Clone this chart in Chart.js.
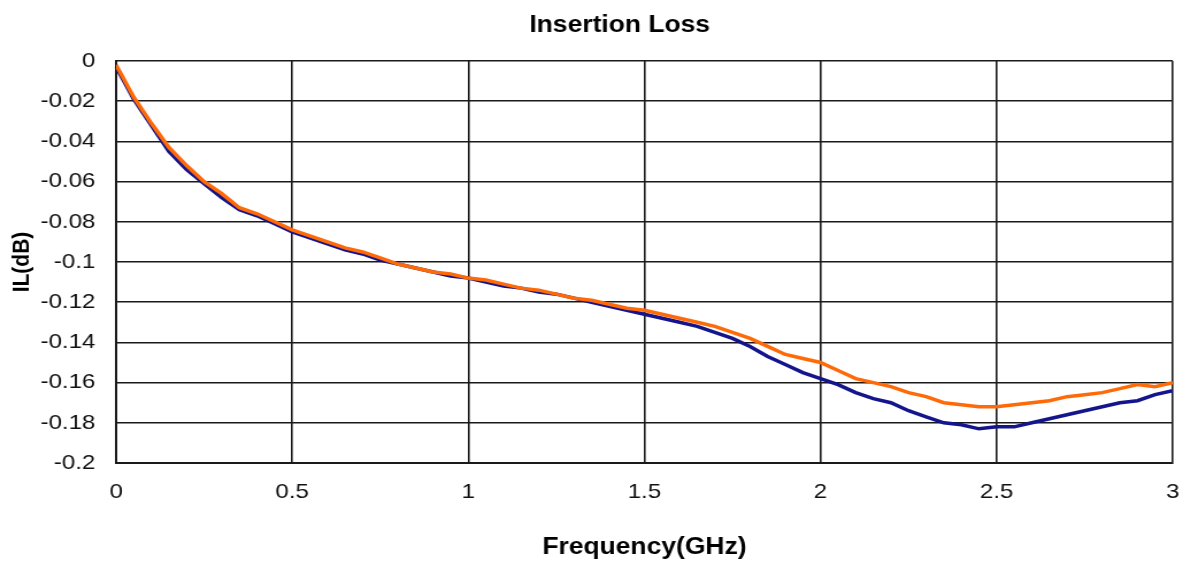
<html>
<head>
<style>
    body { margin: 0; background: #fff; }
</style>
</head>
<body>
<!-- canvas is drawn narrower and widened by its inline style, which gives the wide lettering -->
<canvas id="il_chart" width="1029" height="564" style="width: 1183px; height: 564px; display: block;"></canvas>

<script src="https://cdn.jsdelivr.net/npm/chart.js"></script>

<script>
    var freq = [0, 0.05, 0.1, 0.15, 0.2, 0.25, 0.3, 0.35, 0.4, 0.45,
        0.5, 0.55, 0.6, 0.65, 0.7, 0.75, 0.8, 0.85, 0.9, 0.95,
        1.0, 1.05, 1.1, 1.15, 1.2, 1.25, 1.3, 1.35, 1.4, 1.45,
        1.5, 1.55, 1.6, 1.65, 1.7, 1.75, 1.8, 1.85, 1.9, 1.95,
        2.0, 2.05, 2.1, 2.15, 2.2, 2.25, 2.3, 2.35, 2.4, 2.45,
        2.5, 2.55, 2.6, 2.65, 2.7, 2.75, 2.8, 2.85, 2.9, 2.95, 3.0];

    var il_navy = [-0.003, -0.019, -0.032, -0.045, -0.054, -0.061, -0.068, -0.074, -0.077, -0.081,
        -0.085, -0.088, -0.091, -0.094, -0.096, -0.099, -0.101, -0.103, -0.105, -0.107,
        -0.108, -0.110, -0.112, -0.113, -0.115, -0.116, -0.118, -0.120, -0.122, -0.124,
        -0.126, -0.128, -0.130, -0.132, -0.135, -0.138, -0.142, -0.147, -0.151, -0.155,
        -0.158, -0.161, -0.165, -0.168, -0.170, -0.174, -0.177, -0.180, -0.181, -0.183,
        -0.182, -0.182, -0.180, -0.178, -0.176, -0.174, -0.172, -0.170, -0.169, -0.166, -0.164];

    var il_orange = [-0.002, -0.018, -0.031, -0.043, -0.052, -0.060, -0.066, -0.073, -0.076, -0.080,
        -0.084, -0.087, -0.090, -0.093, -0.095, -0.098, -0.101, -0.103, -0.105, -0.106,
        -0.108, -0.109, -0.111, -0.113, -0.114, -0.116, -0.118, -0.119, -0.121, -0.123,
        -0.124, -0.126, -0.128, -0.130, -0.132, -0.135, -0.138, -0.142, -0.146, -0.148,
        -0.150, -0.154, -0.158, -0.160, -0.162, -0.165, -0.167, -0.170, -0.171, -0.172,
        -0.172, -0.171, -0.170, -0.169, -0.167, -0.166, -0.165, -0.163, -0.161, -0.162, -0.160];

    var x_ticks = [0, 0.5, 1, 1.5, 2, 2.5, 3];

    function points(values) {
        return freq.map((f, i) => ({x: f, y: values[i]}));
    }

    // title is drawn by hand so it can sit a little left of the plot centre
    var titlePlugin = {
        id: 'ilTitle',
        afterDraw(chart) {
            let ctx = chart.ctx;
            ctx.save();
            ctx.font = 'bold 23px "Liberation Sans", Arial, sans-serif';
            ctx.fillStyle = '#000';
            ctx.textAlign = 'center';
            ctx.textBaseline = 'middle';
            ctx.fillText('Insertion Loss', 539, 26);
            ctx.restore();
        }
    };

    var tickFont = {family: '"Liberation Sans", Arial, sans-serif', size: 21};
    var titleFont = {family: '"Liberation Sans", Arial, sans-serif', size: 23, weight: 'bold'};

    var ilChart = new Chart(document.getElementById('il_chart'), {
        type: 'line',
        data: {
            datasets: [
                {
                    label: 'IL 1',
                    data: points(il_navy),
                    borderColor: '#14148c',
                    borderWidth: 3.5,
                    pointRadius: 0,
                    tension: 0,
                    order: 1,
                },
                {
                    label: 'IL 2',
                    data: points(il_orange),
                    borderColor: '#ff6a08',
                    borderWidth: 3.5,
                    pointRadius: 0,
                    tension: 0,
                    order: 0,
                },
            ]
        },
        options: {
            responsive: false,
            animation: false,
            layout: {
                padding: {top: 61, right: 9, left: 0, bottom: 0}
            },
            plugins: {
                legend: {display: false},
                tooltip: {enabled: false},
            },
            scales: {
                x: {
                    type: 'linear',
                    min: 0,
                    max: 3,
                    afterBuildTicks: scale => {
                        scale.ticks = x_ticks.map(v => ({value: v}));
                    },
                    afterFit: scale => {
                        scale.height = 101;
                        scale.paddingRight = 0;
                    },
                    grid: {color: '#1a1a1a', lineWidth: 1.6, drawTicks: false},
                    border: {color: '#1a1a1a', width: 2},
                    ticks: {
                        font: tickFont,
                        color: '#111',
                        padding: 17,
                        maxRotation: 0,
                        callback: v => String(v),
                    },
                    title: {
                        display: true,
                        text: 'Frequency(GHz)',
                        font: titleFont,
                        color: '#000',
                        padding: {top: 0, bottom: 3},
                    },
                },
                y: {
                    min: -0.2,
                    max: 0,
                    ticks: {
                        stepSize: 0.02,
                        font: tickFont,
                        color: '#111',
                        padding: 18,
                        callback: v => String(Number(v.toFixed(2))),
                    },
                    afterFit: scale => { scale.width = 101; },
                    grid: {color: '#1a1a1a', lineWidth: 1.6, drawTicks: false},
                    border: {color: '#1a1a1a', width: 2},
                    title: {
                        display: true,
                        text: 'IL(dB)',
                        font: {family: '"Liberation Sans", Arial, sans-serif', size: 21, weight: 'bold'},
                        color: '#000',
                        padding: {top: 7, bottom: 0},
                    },
                },
            }
        },
        plugins: [titlePlugin]
    });
</script>
</body>
</html>
